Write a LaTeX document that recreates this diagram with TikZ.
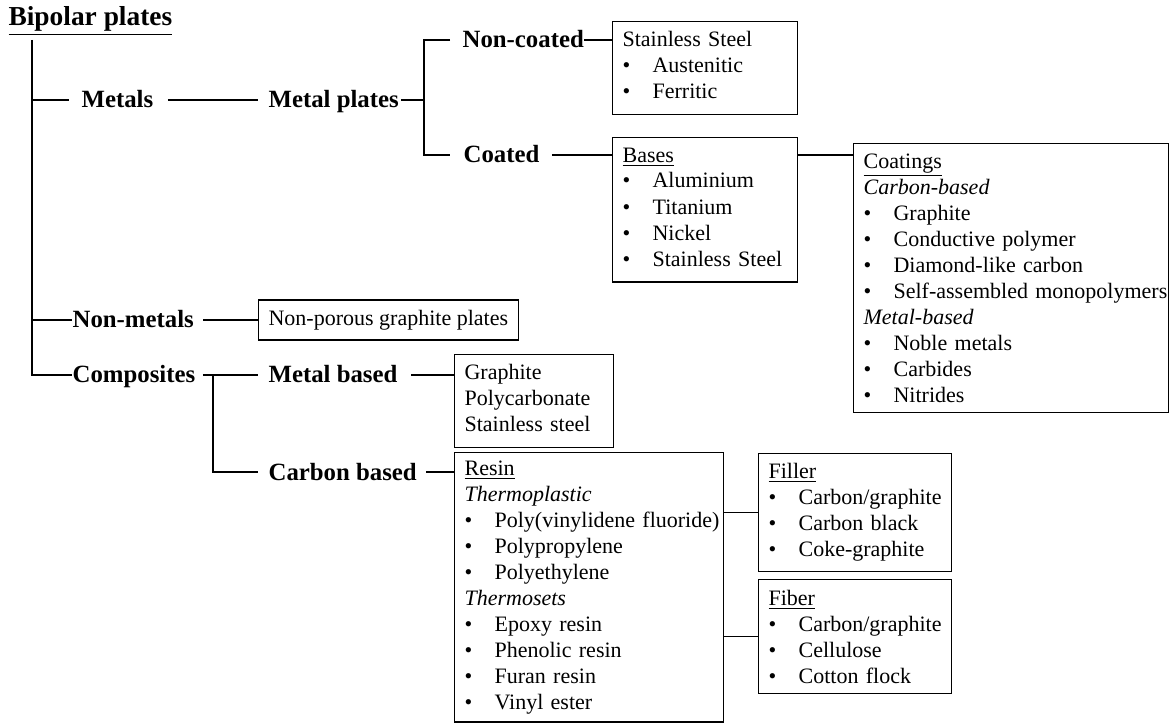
\documentclass[tikz,border=0pt]{standalone}
\usepackage{fontspec}
\setmainfont{Liberation Serif}
\usetikzlibrary{positioning}
\newcommand{\itm}[1]{\mbox{\makebox[15pt][l]{\textbullet}#1}}
\newcommand{\tail}{\rule[-3pt]{0pt}{3pt}}

\begin{document}
\begin{tikzpicture}[x=0.5pt,y=-0.5pt,line width=0.6pt,
 catg/.style={font=\fontsize{12.4}{15}\selectfont\bfseries,anchor=west,
   inner sep=0pt,text height=8pt,text depth=0pt},
 listbox/.style={draw,anchor=north west,align=left,inner xsep=5pt,
   inner ysep=5pt,font=\fontsize{11}{13}\selectfont}]
\useasboundingbox (0,0) rectangle (1170,726);
% category labels
\node[font=\fontsize{13.7}{16}\selectfont\bfseries,anchor=base west,inner sep=0pt]
 (title) at (8,26) {\underline{Bipolar plates}};
\node[catg] (metals) at (81,100) {Metals};
\node[catg] (metalplates) at (268,100) {Metal plates};
\node[catg] (noncoated) at (462,40) {Non-coated};
\node[catg] (coated) at (463,155) {Coated};
\node[catg] (nonmetals) at (72,320) {Non-metals};
\node[catg] (composites) at (72,375) {Composites};
\node[catg] (metalbased) at (268,375) {Metal based};
\node[catg] (carbonbased) at (268,472) {Carbon based};
% list boxes
\node[listbox,text width=82.5pt] (ncbox) at (612,21)
 {Stainless Steel\\ \itm{Austenitic}\\ \itm{Ferritic}\tail};
\node[listbox,text width=82.5pt] (basebox) at (612,137)
 {\underline{Bases}\\ \itm{Aluminium}\\ \itm{Titanium}\\ \itm{Nickel}\\
  \itm{Stainless Steel}\tail};
\node[listbox,text width=147.5pt] (coatbox) at (853,143)
 {\underline{Coatings}\\ \textit{Carbon-based}\\ \itm{Graphite}\\
  \itm{Conductive polymer}\\ \itm{Diamond-like carbon}\\
  \itm{Self-assembled monopolymers}\\ \textit{Metal-based}\\
  \itm{Noble metals}\\ \itm{Carbides}\\ \itm{Nitrides}};
\node[listbox,anchor=west] (npbox) at (258,320) {Non-porous graphite plates};
\node[listbox,text width=69.5pt] (mbbox) at (454,354)
 {Graphite\\ Polycarbonate\\ Stainless steel\tail};
\node[listbox,text width=124.5pt,inner ysep=4pt] (resinbox) at (454,452)
 {\underline{Resin}\\ \textit{Thermoplastic}\\ \itm{Poly(vinylidene fluoride)}\\
  \itm{Polypropylene}\\ \itm{Polyethylene}\\ \textit{Thermosets}\\
  \itm{Epoxy resin}\\ \itm{Phenolic resin}\\ \itm{Furan resin}\\
  \itm{Vinyl ester}};
\node[listbox,text width=86.5pt] (fillerbox) at (758,453)
 {\underline{Filler}\\ \itm{Carbon/graphite}\\ \itm{Carbon black}\\
  \itm{Coke-graphite}};
\node[listbox,text width=86.5pt,below=3.5pt of fillerbox.south west,
 anchor=north west] (fiberbox)
 {\underline{Fiber}\\ \itm{Carbon/graphite}\\ \itm{Cellulose}\\
  \itm{Cotton flock}};
% tree connectors
\coordinate (root) at (32,40);
\coordinate (mpfork) at (424,100);
\coordinate (cpfork) at (213,375);
\draw (root) |- (composites.west);
\draw[shorten >=6pt] (root |- metals.west) -- (metals.west);
\draw (root |- nonmetals.west) -- (nonmetals.west);
\draw[shorten <=7pt,shorten >=5pt] (metals.east) -- (metalplates.west);
\draw[shorten <=1pt] (metalplates.east) -- (mpfork);
\draw[shorten <=6pt,shorten >=6.5pt] (noncoated.west) -| (mpfork) |- (coated.west);
\draw (noncoated.east) -- (noncoated.east -| ncbox.west);
\draw[shorten <=6pt] (coated.east) -- (coated.east -| basebox.west);
\draw (coated.east -| basebox.east) -- (coated.east -| coatbox.west);
\draw[shorten <=4.5pt] (nonmetals.east) -- (npbox.west);
\draw[shorten <=3.5pt,shorten >=5pt] (composites.east) -- (metalbased.west);
\draw[shorten >=5pt] (cpfork) |- (carbonbased.west);
\draw[shorten <=6.5pt] (metalbased.east) -- (metalbased.east -| mbbox.west);
\draw[shorten <=4.5pt] (carbonbased.east) -- (carbonbased.east -| resinbox.west);
\draw (fillerbox.west -| resinbox.east) -- (fillerbox.west);
\draw (fiberbox.west -| resinbox.east) -- (fiberbox.west);
\end{tikzpicture}
\end{document}
